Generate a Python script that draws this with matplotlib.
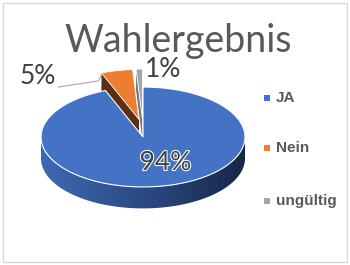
import numpy as np
import matplotlib
matplotlib.use('Agg')
import matplotlib.pyplot as plt
from matplotlib.patches import Polygon, Rectangle
import matplotlib.patheffects as pe

# Daten
labels = ['JA', 'Nein', 'ungültig']
werte = [94, 5, 1]
farben = ['#4472C4', '#ED7D31', '#A5A5A5']
schnittfarben = ['#2a4a86', '#5c2f10', '#7a7a7a']
explode = [0.0, 0.36, 0.36]
titel = 'Wahlergebnis'

plt.rcParams['font.family'] = ['Lato', 'DejaVu Sans']

fig = plt.figure(figsize=(3.5, 2.65), dpi=100)
ax = fig.add_axes([0, 0, 1, 1])
# Koordinaten: Radius = 1, Zentrum des Kuchens
px = 102.0
cx, cy = 143.0, 137.0
ax.set_xlim(-cx / px, (350 - cx) / px)
ax.set_ylim(-(265 - cy) / px, cy / px)
ax.axis('off')

# Rahmen
fig.patches.append(Rectangle((3 / 350, 3 / 265), 344 / 350, 259 / 265,
                             transform=fig.transFigure, fill=False,
                             ec='#d9d9d9', lw=1))

b = 0.49   # Halbachse vertikal
h = 0.21   # Dicke


def punkt(theta, r=1.0):
    t = np.radians(theta)
    return r * np.sin(t), r * b * np.cos(t)


# Winkel (im Uhrzeigersinn ab 12 Uhr)
anteile = np.array(werte, dtype=float) / sum(werte) * 360
grenzen = np.concatenate([[0], np.cumsum(anteile)])


def oben(i, dx, dy):
    th = np.linspace(grenzen[i], grenzen[i + 1], 80)
    xs, ys = punkt(th)
    xs = np.concatenate([[0], xs]) + dx
    ys = np.concatenate([[0], ys]) + dy
    return np.column_stack([xs, ys])


# Herausgezogene Stücke zuerst (liegen hinten)
for i in [1, 2]:
    mitte = (grenzen[i] + grenzen[i + 1]) / 2
    dx, dy = punkt(mitte, explode[i])
    dx *= 0.5
    # Schnittfläche an der linken Kante
    x0, y0 = punkt(grenzen[i])
    schnitt = [(dx, dy), (x0 + dx, y0 + dy), (x0 + dx, y0 + dy - h), (dx, dy - h)]
    ax.add_patch(Polygon(schnitt, closed=True, fc=schnittfarben[i], ec='none', zorder=1))
    ax.add_patch(Polygon(oben(i, dx, dy), closed=True, fc=farben[i],
                         ec='white', lw=0.6, zorder=2))

# Seitenfläche vorne mit Verlauf (Bild, auf die Fläche beschnitten)
th = np.linspace(90, 270, 200)
xs, ys = punkt(th)
seite = np.concatenate([np.column_stack([xs, ys]),
                        np.column_stack([xs[::-1], ys[::-1] - h])])
seite_patch = Polygon(seite, closed=True, fc='none', ec='none')
ax.add_patch(seite_patch)
verlauf = matplotlib.colors.LinearSegmentedColormap.from_list(
    'seite', ['#4068b2', '#2b4a85', '#172747'])
grad = np.linspace(0, 1, 256).reshape(1, -1)
img = ax.imshow(grad, cmap=verlauf, extent=(-1, 1, -b - h - 0.02, 0.02),
                aspect='auto', zorder=3, interpolation='bilinear')
img.set_clip_path(seite_patch)

# Oberseite JA
ax.add_patch(Polygon(oben(0, 0, 0), closed=True, fc=farben[0],
                     ec='white', lw=0.8, zorder=4))

# Prozent-Beschriftungen
ax.text(0.22, -0.25, f'{werte[0]}%', fontsize=19, color='#404040',
        ha='center', va='center', zorder=6,
        path_effects=[pe.withStroke(linewidth=1.5, foreground='white')])

mitte1 = (grenzen[1] + grenzen[2]) / 2
dx1, dy1 = punkt(mitte1, explode[1])
dx1 *= 0.5
xa, ya = punkt(grenzen[1])
lx, ly = -0.85, 0.49
ax.plot([lx + 0.02, xa + dx1 - 0.03, xa + dx1], [ly, ly + 0.06, ly + 0.12],
        color='#a6a6a6', lw=0.8, zorder=5)
ax.text(lx, ly + 0.1, f'{werte[1]}%', fontsize=19, color='#404040',
        ha='right', va='center', zorder=6)
ax.text(0.02, 0.66, f'{werte[2]}%', fontsize=19, color='#404040',
        ha='left', va='center', zorder=6)

# Titel
fig.text(178 / 350, 1 - 41 / 265, titel, fontsize=27, color='#595959',
         ha='center', va='center')

# Legende
leg_y = [98, 148, 201]
for lab, col, yy in zip(labels, farben, leg_y):
    fig.patches.append(Rectangle((264 / 350, 1 - (yy + 3) / 265), 6 / 350, 6 / 265,
                                 transform=fig.transFigure, fc=col, ec='none'))
    fig.text(276 / 350, 1 - yy / 265, lab, fontsize=11, fontweight='bold',
             family=['Liberation Sans', 'DejaVu Sans'],
             color='#595959', ha='left', va='center')

fig.savefig('out.png', dpi=100)
